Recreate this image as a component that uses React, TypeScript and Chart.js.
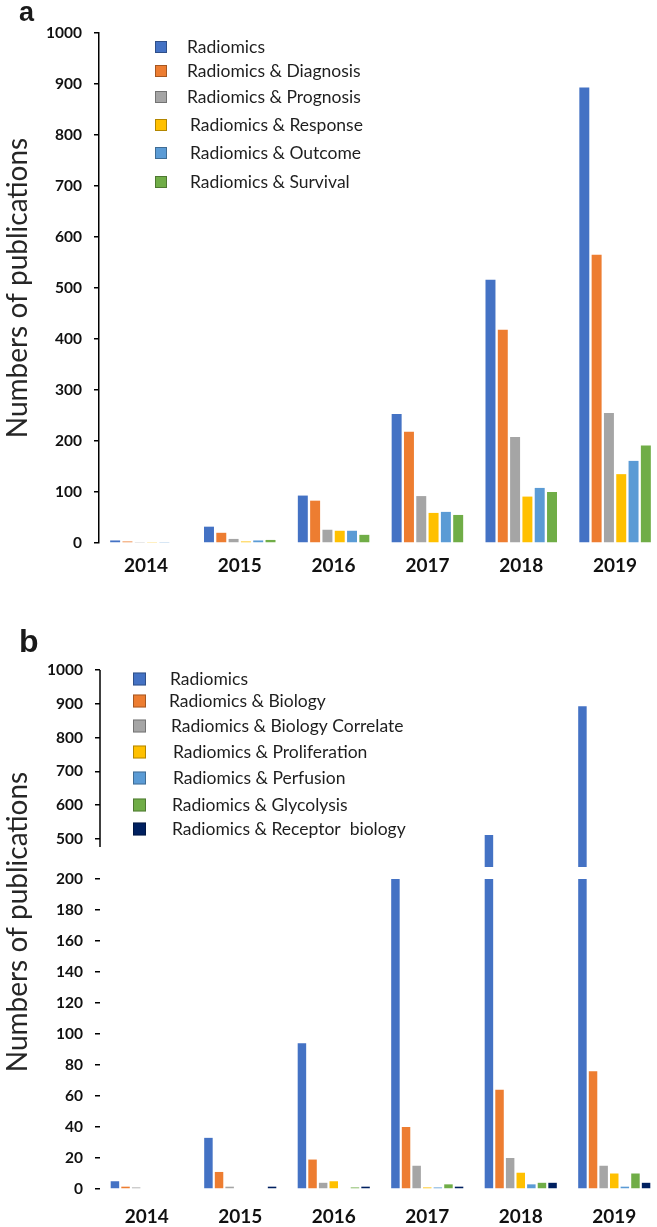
import React, { useEffect, useRef } from 'react';
import { Chart, registerables } from 'chart.js';

Chart.register(...registerables);

// ---------- data ----------
const years = ['2014', '2015', '2016', '2017', '2018', '2019'];

// Panel a
const aSeriesNames = [
  'Radiomics',
  'Radiomics & Diagnosis',
  'Radiomics & Prognosis',
  'Radiomics & Response',
  'Radiomics & Outcome',
  'Radiomics & Survival',
];
const aRadiomics = [5, 32, 93, 253, 516, 893];
const aDiagnosis = [3, 20, 83, 218, 418, 565];
const aPrognosis = [1, 8, 26, 92, 208, 255];
const aResponse = [1, 3, 24, 59, 91, 135];
const aOutcome = [1, 5, 24, 61, 108, 161];
const aSurvival = [0, 6, 16, 55, 100, 191];
const aColors = ['#4472C4', '#ED7D31', '#A5A5A5', '#FFC000', '#5B9BD5', '#70AD47'];

// Panel b
const bSeriesNames = [
  'Radiomics',
  'Radiomics & Biology',
  'Radiomics & Biology Correlate',
  'Radiomics & Proliferation',
  'Radiomics & Perfusion',
  'Radiomics & Glycolysis',
  'Radiomics & Receptor  biology',
];
const bRadiomics = [5, 33, 94, 253, 512, 893];
const bBiology = [1.5, 11, 19, 40, 64, 76];
const bCorrelate = [1, 1.5, 4, 15, 20, 15];
const bProliferation = [0, 0, 5, 1, 10.5, 10];
const bPerfusion = [0, 0, 0, 1, 3, 1.5];
const bGlycolysis = [0, 0, 1, 3, 4, 10];
const bReceptor = [0, 1.5, 1.5, 1.5, 4, 4];
const bColors = ['#4472C4', '#ED7D31', '#A5A5A5', '#FFC000', '#5B9BD5', '#70AD47', '#002060'];

const aTicksStep = 100;
const bUpperTicks = [500, 600, 700, 800, 900, 1000];
const bLowerStep = 20;

const yTitle = 'Numbers of publications';

// ---------- layout (pixels) ----------
const PAGE_H = 1227;
const FONT = 'Lato, "Noto Sans", sans-serif';

type LegendCfg = { sqX: number; size: number; rows: number[]; textX: number[] };
type DecorCfg = {
  panel?: { text: string; x: number; y: number; size: number };
  title?: { x: number; y: number };
  legend?: LegendCfg;
  axisLineTo?: number;
};

function makeDecor(cfg: DecorCfg) {
  return {
    id: 'decor',
    afterDraw(chart: any) {
      const ctx: CanvasRenderingContext2D = chart.ctx;
      ctx.save();
      if (cfg.axisLineTo !== undefined) {
        const y = chart.scales.y;
        const x = chart.chartArea.left;
        ctx.strokeStyle = '#000';
        ctx.lineWidth = 1.5;
        ctx.beginPath();
        ctx.moveTo(x, chart.chartArea.top);
        ctx.lineTo(x, y.getPixelForValue(cfg.axisLineTo));
        ctx.stroke();
      }
      if (cfg.panel) {
        ctx.font = `bold ${cfg.panel.size}px "Liberation Sans", Arial, sans-serif`;
        ctx.fillStyle = '#1a1a1a';
        ctx.textAlign = 'left';
        ctx.textBaseline = 'alphabetic';
        ctx.fillText(cfg.panel.text, cfg.panel.x, cfg.panel.y);
      }
      if (cfg.title) {
        ctx.save();
        ctx.translate(cfg.title.x, cfg.title.y);
        ctx.rotate(-Math.PI / 2);
        ctx.font = `28px ${FONT}`;
        ctx.fillStyle = '#262626';
        ctx.textAlign = 'center';
        ctx.textBaseline = 'alphabetic';
        ctx.fillText(yTitle, 0, 0);
        ctx.restore();
      }
      if (cfg.legend) {
        const L = cfg.legend;
        chart.data.datasets.forEach((ds: any, i: number) => {
          const cy = L.rows[i];
          ctx.fillStyle = ds.backgroundColor;
          ctx.fillRect(L.sqX, cy - L.size / 2, L.size, L.size);
          ctx.strokeStyle = 'rgba(0,0,0,0.3)';
          ctx.lineWidth = 1;
          ctx.strokeRect(L.sqX + 0.5, cy - L.size / 2 + 0.5, L.size - 1, L.size - 1);
          ctx.font = `17.5px ${FONT}`;
          ctx.fillStyle = '#1e1e1e';
          ctx.textAlign = 'left';
          ctx.textBaseline = 'middle';
          ctx.fillText(ds.label, L.textX[i], cy);
        });
      }
      ctx.restore();
    },
  };
}

const tickFont = { family: FONT, weight: 'bold' as const, size: 15.5 };
const xFont = { family: FONT, weight: 'bold' as const, size: 19 };
const plain = (v: any) => String(v);

function buildDatasets(series: number[][], names: string[], colors: string[], cp: number, bp: number) {
  return series.map((d, i) => ({
    label: names[i],
    data: d,
    backgroundColor: colors[i],
    borderWidth: 0,
    categoryPercentage: cp,
    barPercentage: bp,
  }));
}

export default function App() {
  const aRef = useRef<HTMLCanvasElement>(null);
  const bUpRef = useRef<HTMLCanvasElement>(null);
  const bLoRef = useRef<HTMLCanvasElement>(null);

  useEffect(() => {
    const charts: Chart[] = [];

    // ----- panel a -----
    const aTop = 33;
    const aBottom = 543;
    charts.push(
      new Chart(aRef.current!, {
        type: 'bar',
        data: {
          labels: years,
          datasets: buildDatasets(
            [aRadiomics, aDiagnosis, aPrognosis, aResponse, aOutcome, aSurvival],
            aSeriesNames,
            aColors,
            0.787,
            0.81,
          ),
        },
        options: {
          animation: false,
          responsive: false,
          devicePixelRatio: 1,
          layout: { padding: { top: aTop, left: 0, right: 2, bottom: 0 } },
          plugins: { legend: { display: false }, tooltip: { enabled: false } },
          scales: {
            x: {
              grid: { display: false, drawTicks: false, tickLength: 0 },
              border: { display: false },
              ticks: { padding: 11, color: '#111', font: xFont, maxRotation: 0, autoSkip: false },
              afterFit: (s: any) => {
                s.height = PAGE_H - aBottom;
              },
            },
            y: {
              min: 0,
              max: 1000,
              ticks: { stepSize: aTicksStep, padding: 12, color: '#111', font: tickFont, callback: plain },
              grid: { drawOnChartArea: false, drawTicks: true, tickLength: 5, color: '#000', lineWidth: 1.5 },
              border: { display: true, color: '#000', width: 1.5 },
              afterFit: (s: any) => {
                s.width = 99;
              },
            },
          },
        } as any,
        plugins: [
          makeDecor({
            panel: { text: 'a', x: 19, y: 21, size: 27 },
            title: { x: 27, y: 288 },
            legend: {
              sqX: 155,
              size: 12,
              rows: [47, 71, 97, 125, 153, 182],
              textX: [187, 187, 187, 190, 190, 190],
            },
          }),
        ],
      }),
    );

    // ----- panel b -----
    const bSeries = [bRadiomics, bBiology, bCorrelate, bProliferation, bPerfusion, bGlycolysis, bReceptor];
    const bUpTop = 670;
    const bUpBottom = 867;
    const bLoTop = 879;
    const bLoBottom = 1189;

    charts.push(
      new Chart(bUpRef.current!, {
        type: 'bar',
        data: { labels: years, datasets: buildDatasets(bSeries, bSeriesNames, bColors, 0.794, 0.8) },
        options: {
          animation: false,
          responsive: false,
          devicePixelRatio: 1,
          layout: { padding: { top: bUpTop, left: 0, right: 2, bottom: PAGE_H - bUpBottom } },
          plugins: { legend: { display: false }, tooltip: { enabled: false } },
          scales: {
            x: { display: false },
            y: {
              min: 417,
              max: 1000,
              afterBuildTicks: (s: any) => {
                s.ticks = bUpperTicks.map((v) => ({ value: v }));
              },
              ticks: { padding: 12, color: '#111', font: tickFont, callback: plain },
              grid: { drawOnChartArea: false, drawTicks: true, tickLength: 5, color: '#000', lineWidth: 1.5 },
              border: { display: false },
              afterFit: (s: any) => {
                s.width = 100;
              },
            },
          },
        } as any,
        plugins: [
          makeDecor({
            panel: { text: 'b', x: 19, y: 652, size: 32 },
            axisLineTo: 476,
            legend: {
              sqX: 133,
              size: 13,
              rows: [679, 701, 726, 752, 778, 805, 829],
              textX: [170, 169, 171, 173, 173, 172, 172],
            },
          }),
        ],
      }),
    );

    charts.push(
      new Chart(bLoRef.current!, {
        type: 'bar',
        data: { labels: years, datasets: buildDatasets(bSeries, bSeriesNames, bColors, 0.794, 0.8) },
        options: {
          animation: false,
          responsive: false,
          devicePixelRatio: 1,
          layout: { padding: { top: bLoTop, left: 0, right: 2, bottom: 0 } },
          plugins: { legend: { display: false }, tooltip: { enabled: false } },
          scales: {
            x: {
              grid: { display: false, drawTicks: false, tickLength: 0 },
              border: { display: false },
              ticks: { padding: 16, color: '#111', font: xFont, maxRotation: 0, autoSkip: false },
              afterFit: (s: any) => {
                s.height = PAGE_H - bLoBottom;
              },
            },
            y: {
              min: 0,
              max: 200,
              ticks: { stepSize: bLowerStep, padding: 12, color: '#111', font: tickFont, callback: plain },
              grid: { drawOnChartArea: false, drawTicks: true, tickLength: 5, color: '#000', lineWidth: 1.5 },
              border: { display: false },
              afterFit: (s: any) => {
                s.width = 100;
              },
            },
          },
        } as any,
        plugins: [makeDecor({ title: { x: 27, y: 922 } })],
      }),
    );

    return () => charts.forEach((c) => c.destroy());
  }, []);

  const cStyle: React.CSSProperties = { position: 'absolute', left: 0, top: 0 };
  return (
    <div
      style={{
        position: 'absolute',
        left: 0,
        top: 0,
        width: 657,
        height: PAGE_H,
        overflow: 'hidden',
        background: '#fff',
      }}
    >
      <canvas ref={aRef} width={664} height={PAGE_H} style={cStyle} />
      <canvas ref={bUpRef} width={663} height={PAGE_H} style={cStyle} />
      <canvas ref={bLoRef} width={663} height={PAGE_H} style={cStyle} />
    </div>
  );
}
